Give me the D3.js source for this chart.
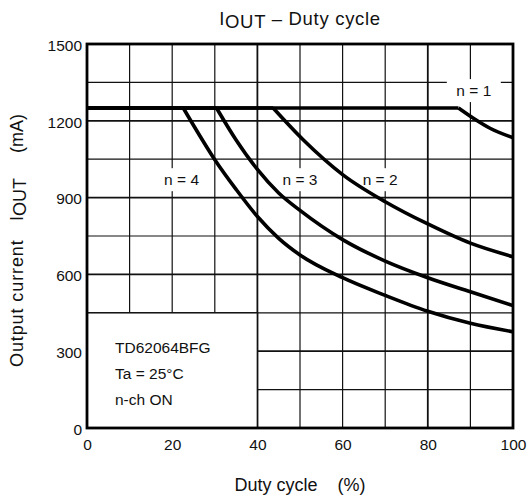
<!DOCTYPE html>
<html>
<head>
<meta charset="utf-8">
<script src="https://cdn.jsdelivr.net/npm/d3@7/dist/d3.min.js"></script>
<style>
  html, body { margin: 0; padding: 0; background: #fff; }
  svg { display: block; font-family: "Liberation Sans", Arial, sans-serif; }
</style>
</head>
<body>
<svg id="chart" width="528" height="502"></svg>
<script>
// ---- data ----
const xTicks = [0, 20, 40, 60, 80, 100];
const yTicks = [0, 300, 600, 900, 1200, 1500];
const seriesNames = ["n = 1", "n = 2", "n = 3", "n = 4"];
// duty cycle (%) and output current (mA); first two points are the flat limit segment
const dutyN1 = [0, 87.2, 90.7, 94.6, 100];
const iOutN1 = [1250, 1250, 1210, 1171, 1134];
const dutyN2 = [0, 43.7, 50.8, 60, 70, 80, 90, 100];
const iOutN2 = [1250, 1250, 1125, 990, 884, 797, 722, 669];
const dutyN3 = [0, 30.4, 35, 40, 45, 50, 60, 70, 80, 90, 100];
const iOutN3 = [1250, 1250, 1125, 1010, 918, 850, 736, 652, 587, 532, 478];
const dutyN4 = [0, 22.6, 25.7, 30, 35, 40, 45, 50, 60, 70, 80, 90, 100];
const iOutN4 = [1250, 1250, 1163, 1048, 932, 826, 741, 676, 587, 518, 456, 409, 376];
const legendLines = ["TD62064BFG", "Ta = 25°C", "n-ch ON"];

const series = [
  { name: seriesNames[0], duty: dutyN1, iout: iOutN1 },
  { name: seriesNames[1], duty: dutyN2, iout: iOutN2 },
  { name: seriesNames[2], duty: dutyN3, iout: iOutN3 },
  { name: seriesNames[3], duty: dutyN4, iout: iOutN4 }
];

// ---- layout ----
const svg = d3.select("#chart");
const x = d3.scaleLinear().domain([0, 100]).range([87, 513]);
const y = d3.scaleLinear().domain([0, 1500]).range([428, 44]);

// grid
const grid = svg.append("g");
d3.range(10, 100, 10).forEach(v => {
  const major = (v % 40 === 0);
  grid.append("line")
    .attr("x1", x(v)).attr("x2", x(v))
    .attr("y1", y(0)).attr("y2", y(1500))
    .attr("stroke", "#111").attr("stroke-width", major ? 1.8 : 1.2);
});
d3.range(150, 1500, 150).forEach(v => {
  const major = (v % 300 === 0);
  grid.append("line")
    .attr("x1", x(0)).attr("x2", x(100))
    .attr("y1", y(v)).attr("y2", y(v))
    .attr("stroke", "#111").attr("stroke-width", major ? 1.8 : 1.2);
});

// legend box (covers grid)
svg.append("rect")
  .attr("x", x(0)).attr("y", y(450))
  .attr("width", x(40) - x(0)).attr("height", y(0) - y(450))
  .attr("fill", "#fff").attr("stroke", "#111").attr("stroke-width", 1.5);
svg.append("g").selectAll("text").data(legendLines).join("text")
  .attr("x", 115)
  .attr("y", (d, i) => 352.5 + i * 26.3)
  .attr("font-size", 15.5)
  .attr("fill", "#111")
  .text(d => d);

// series label boxes + labels
const labelPos = [
  { cx: x(90.8), cy: y(1318) },
  { cx: x(68.8), cy: y(970) },
  { cx: x(50), cy: y(970) },
  { cx: x(22.2), cy: y(970) }
];
const lbl = svg.append("g");
series.forEach((s, i) => {
  const p = labelPos[i];
  lbl.append("rect")
    .attr("x", p.cx - 27).attr("y", p.cy - 11.5)
    .attr("width", 54).attr("height", 23)
    .attr("fill", "#fff");
  lbl.append("text")
    .attr("x", p.cx).attr("y", p.cy + 5.5)
    .attr("text-anchor", "middle")
    .attr("font-size", 15.5)
    .attr("fill", "#111")
    .text(s.name);
});

// curves
const lineLin = d3.line().x(d => x(d[0])).y(d => y(d[1]));
const lineCurve = d3.line().x(d => x(d[0])).y(d => y(d[1])).curve(d3.curveMonotoneX);
const curves = svg.append("g").attr("fill", "none").attr("stroke", "#000")
  .attr("stroke-width", 3.6).attr("stroke-linejoin", "round");
series.forEach(s => {
  const pts = s.duty.map((d, i) => [d, s.iout[i]]);
  curves.append("path").attr("d", lineLin(pts.slice(0, 2)));
  curves.append("path").attr("d", lineCurve(pts.slice(1)));
});

// frame
svg.append("rect")
  .attr("x", x(0)).attr("y", y(1500))
  .attr("width", x(100) - x(0)).attr("height", y(0) - y(1500))
  .attr("fill", "none").attr("stroke", "#000").attr("stroke-width", 2.8);

// axes
const yAxis = svg.append("g")
  .attr("transform", `translate(${x(0)},0)`)
  .call(d3.axisLeft(y).tickValues(yTicks).tickFormat(d3.format("d")).tickSize(0).tickPadding(5));
const xAxis = svg.append("g")
  .attr("transform", `translate(0,${y(0)})`)
  .call(d3.axisBottom(x).tickValues(xTicks).tickFormat(d3.format("d")).tickSize(0).tickPadding(11));
[yAxis, xAxis].forEach(g => {
  g.select(".domain").remove();
  g.selectAll("text").attr("font-size", 15.5).attr("fill", "#111")
    .attr("font-family", "'Liberation Sans', Arial, sans-serif");
});
yAxis.selectAll("text").attr("dy", "0.4em");

// title
const title = svg.append("text")
  .attr("x", 300).attr("y", 25)
  .attr("text-anchor", "middle")
  .attr("font-size", 18.5).attr("letter-spacing", 0.7).attr("fill", "#111");
title.append("tspan").text("I");
title.append("tspan").attr("dy", 2.5).text("OUT");
title.append("tspan").attr("dy", -2.5).text(" – Duty cycle");

// x axis title
svg.append("text")
  .attr("x", 300).attr("y", 491)
  .attr("text-anchor", "middle")
  .attr("font-size", 18).attr("fill", "#111")
  .attr("xml:space", "preserve")
  .text("Duty cycle    (%)");

// y axis title
const yt = svg.append("g").attr("transform", "translate(23,0) rotate(-90)");
yt.append("text").attr("x", -367).attr("y", 0).attr("font-size", 18)
  .attr("letter-spacing", 0.9).attr("fill", "#111")
  .text("Output current");
const yI = yt.append("text").attr("x", -221).attr("y", 0).attr("font-size", 18).attr("fill", "#111");
yI.append("tspan").text("I");
yI.append("tspan").attr("dy", 2.5).text("OUT");
yt.append("text").attr("x", -153).attr("y", 0).attr("font-size", 18).attr("fill", "#111")
  .text("(mA)");
</script>
</body>
</html>
